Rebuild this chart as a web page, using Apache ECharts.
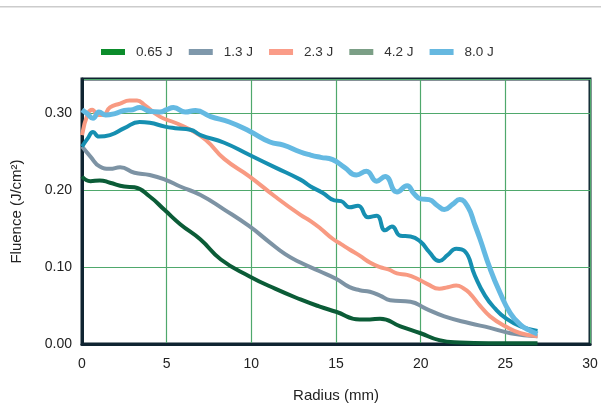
<!DOCTYPE html>
<html>
<head>
<meta charset="utf-8">
<script src="https://cdn.jsdelivr.net/npm/echarts@6/dist/echarts.min.js"></script>
<style>
  html, body { margin: 0; padding: 0; background: #fff; }
  #chart { width: 601px; height: 408px; }
</style>
</head>
<body>
<div id="chart"></div>
<script>
var chart = echarts.init(document.getElementById('chart'));

// legend names
var names = ['0.65 J', '1.3 J', '2.3 J', '4.2 J', '8.0 J'];

// radius (mm) / fluence (J/cm2)
var r065 = [0, 0.5, 1.05, 1.65, 2.5, 3.1, 4.0, 4.9, 5.8, 7.0, 8.2, 9.9, 11.4, 12.9, 14.0, 15.0, 16.4, 17.0, 17.6, 18.8, 20.0, 21.1, 22.3, 24.0, 26.9];
var f065 = [0.218, 0.212, 0.213, 0.210, 0.205, 0.204, 0.192, 0.174, 0.156, 0.136, 0.110, 0.088, 0.072, 0.058, 0.049, 0.042, 0.032, 0.032, 0.033, 0.023, 0.014, 0.005, 0.002, 0.001, 0.001];

var r13 = [0, 0.5, 1.05, 1.65, 2.25, 3.1, 4.0, 4.9, 5.8, 7.0, 8.4, 9.9, 11.1, 12.0, 12.9, 14.0, 15.0, 15.8, 16.4, 17.0, 17.6, 18.2, 19.4, 20.3, 21.4, 22.9, 24.1, 25.3, 26.9];
var f13 = [0.257, 0.244, 0.231, 0.228, 0.230, 0.223, 0.220, 0.214, 0.205, 0.194, 0.175, 0.153, 0.132, 0.117, 0.106, 0.095, 0.085, 0.074, 0.070, 0.068, 0.063, 0.057, 0.055, 0.046, 0.036, 0.027, 0.021, 0.014, 0.010];

var r23 = [0, 0.35, 0.6, 0.95, 1.25, 1.65, 2.25, 2.8, 3.25, 3.7, 4.6, 5.5, 6.4, 7.3, 8.4, 9.9, 11.4, 12.9, 13.5, 14.1, 14.8, 15.3, 15.8, 16.4, 17.0, 17.6, 18.1, 18.6, 19.2, 19.8, 20.4, 21.1, 21.6, 22.1, 22.5, 22.9, 23.5, 24.1, 25.0, 25.9, 26.9];
var f23 = [0.272, 0.300, 0.305, 0.298, 0.298, 0.308, 0.313, 0.317, 0.317, 0.311, 0.296, 0.288, 0.279, 0.266, 0.241, 0.218, 0.192, 0.168, 0.160, 0.150, 0.137, 0.130, 0.123, 0.115, 0.106, 0.100, 0.097, 0.092, 0.090, 0.085, 0.078, 0.072, 0.074, 0.076, 0.073, 0.066, 0.050, 0.036, 0.023, 0.014, 0.010];

var r42 = [0, 0.35, 0.65, 1.0, 1.65, 2.5, 3.4, 4.0, 4.9, 5.5, 6.4, 7.0, 8.4, 9.9, 11.4, 12.9, 13.5, 14.2, 14.9, 15.3, 15.8, 16.3, 16.9, 17.4, 17.9, 18.3, 18.8, 19.4, 20.0, 20.5, 21.1, 21.6, 22.1, 22.6, 23.2, 23.8, 24.4, 25.0, 25.9, 26.9];
var f42 = [0.257, 0.268, 0.276, 0.270, 0.272, 0.281, 0.289, 0.288, 0.283, 0.281, 0.279, 0.272, 0.262, 0.246, 0.230, 0.214, 0.205, 0.197, 0.187, 0.186, 0.178, 0.180, 0.165, 0.167, 0.148, 0.153, 0.141, 0.140, 0.133, 0.120, 0.108, 0.116, 0.124, 0.121, 0.089, 0.063, 0.046, 0.034, 0.023, 0.017];

var r80 = [0, 0.3, 0.65, 1.0, 1.4, 1.95, 2.5, 3.0, 3.4, 4.0, 4.6, 5.0, 5.4, 6.1, 6.7, 7.6, 8.7, 9.9, 11.1, 11.9, 12.9, 13.5, 14.1, 14.8, 15.5, 16.2, 16.8, 17.4, 17.9, 18.6, 19.2, 19.6, 20.0, 20.5, 21.0, 21.4, 21.9, 22.3, 22.8, 23.2, 23.5, 24.1, 24.7, 25.3, 25.9, 26.4, 26.9];
var f80 = [0.305, 0.300, 0.294, 0.302, 0.298, 0.300, 0.304, 0.305, 0.308, 0.303, 0.302, 0.305, 0.308, 0.302, 0.304, 0.296, 0.289, 0.277, 0.263, 0.259, 0.250, 0.246, 0.243, 0.240, 0.230, 0.220, 0.225, 0.212, 0.218, 0.198, 0.206, 0.196, 0.189, 0.188, 0.180, 0.175, 0.182, 0.188, 0.178, 0.155, 0.137, 0.098, 0.066, 0.040, 0.025, 0.018, 0.013];

var lineColors = ['#0b5c37', '#7d93a4', '#f89a82', '#168fb1', '#64b9e2'];
var legendColors = ['#0b8c2b', '#7f98ab', '#fa9c88', '#7b9f86', '#66b8e0'];
var lineWidths = [4, 4, 4, 4, 5];

function pairs(xs, ys) {
    var out = [];
    for (var i = 0; i < xs.length; i++) out.push([xs[i], ys[i]]);
    return out;
}

var allData = [pairs(r065, f065), pairs(r13, f13), pairs(r23, f23), pairs(r42, f42), pairs(r80, f80)];

var series = [];
for (var i = 0; i < names.length; i++) {
    series.push({
        name: names[i],
        type: 'line',
        data: allData[i],
        smooth: 0.5,
        showSymbol: false,
        lineStyle: { color: lineColors[i], width: lineWidths[i] },
        itemStyle: { color: lineColors[i] }
    });
}

var legendData = [];
for (var k = 0; k < names.length; k++) {
    legendData.push({ name: names[k], itemStyle: { color: legendColors[k] } });
}

var option = {
    backgroundColor: '#fff',
    animation: false,
    textStyle: { fontFamily: 'Liberation Sans' },
    graphic: [{
        type: 'rect',
        shape: { x: 0, y: 6, width: 601, height: 1.5 },
        style: { fill: '#cccccc' }
    }],
    legend: {
        data: legendData,
        left: 96,
        top: 40,
        icon: 'rect',
        itemWidth: 24,
        itemHeight: 6,
        itemGap: 16,
        textStyle: { fontSize: 13.5, color: '#333', padding: [0, 0, 0, 6] }
    },
    grid: {
        left: 82,
        right: 11,
        top: 79,
        bottom: 62,
        show: true,
        borderColor: '#0f2431',
        borderWidth: 3
    },
    xAxis: {
        type: 'value',
        min: 0,
        max: 30,
        interval: 5,
        name: 'Radius (mm)',
        nameLocation: 'middle',
        nameGap: 44,
        nameTextStyle: { fontSize: 15, color: '#222' },
        axisLine: { lineStyle: { color: '#0f2431', width: 3 } },
        axisTick: { show: false },
        axisLabel: { fontSize: 14, color: '#222', margin: 13 },
        splitLine: { lineStyle: { color: '#4fa86c', width: 1.2 } }
    },
    yAxis: {
        type: 'value',
        min: 0,
        max: 0.345,
        interval: 0.1,
        name: 'Fluence (J/cm²)',
        nameLocation: 'middle',
        nameGap: 58,
        nameTextStyle: { fontSize: 15, color: '#222' },
        axisLine: { show: true, lineStyle: { color: '#0f2431', width: 3 } },
        axisTick: { show: false },
        axisLabel: {
            fontSize: 14, color: '#222', margin: 10, showMaxLabel: false,
            formatter: function (v) { return v.toFixed(2); }
        },
        splitLine: { lineStyle: { color: '#4fa86c', width: 1.2 } }
    },
    series: series
};
chart.setOption(option);
</script>
</body>
</html>
